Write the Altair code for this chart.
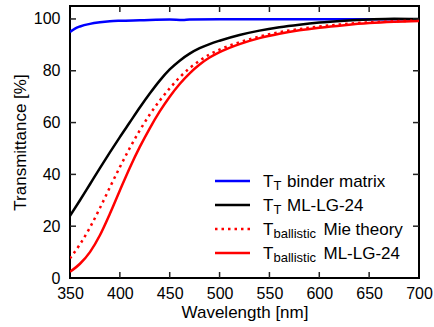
import altair as alt
import pandas as pd

# ---------------- data ----------------
WL_BLUE = [350, 355, 360, 370, 380, 390, 400, 420, 450, 463, 470, 500, 550, 600, 650, 700]
T_BLUE = [95.0, 96.3, 97.1, 98.1, 98.7, 99.1, 99.3, 99.5, 99.8, 99.6, 99.8, 99.9, 99.9, 99.9, 99.9, 99.9]

WL = [350, 360, 370, 380, 390, 400, 410, 420, 430, 440, 450, 460, 470, 480, 490, 500,
      520, 540, 560, 580, 600, 625, 650, 675, 700]
T_BLACK = [24.0, 30.0, 36.2, 42.4, 48.5, 54.4, 60.1, 65.8, 71.2, 76.2, 80.5, 83.9, 86.6, 88.7, 90.3, 91.6,
           93.8, 95.5, 96.8, 97.8, 98.6, 99.3, 99.8, 100.1, 100.0]
T_MIE = [7.6, 13.0, 19.5, 27.0, 35.0, 42.8, 50.2, 57.0, 63.1, 68.5, 73.2, 77.5, 81.0, 83.9, 86.3, 88.2,
         91.0, 93.2, 94.9, 96.1, 97.1, 98.0, 98.7, 99.1, 99.4]
T_BALL = [2.4, 5.5, 10.0, 16.5, 24.8, 33.8, 42.6, 50.6, 57.8, 64.3, 70.0, 74.9, 79.0, 82.4, 85.1, 87.2,
          90.3, 92.6, 94.3, 95.6, 96.6, 97.6, 98.4, 98.9, 99.2]

X_TICKS = [350, 400, 450, 500, 550, 600, 650, 700]
Y_TICKS = [0, 20, 40, 60, 80, 100]
X_INNER = [400, 450, 500, 550, 600, 650]
Y_INNER = [20, 40, 60, 80, 100]

LEG_MAIN = ["T", "T", "T", "T"]
LEG_SUB = ["T", "T", "ballistic", "ballistic"]
LEG_REST = ["binder matrix", "ML-LG-24", "Mie theory", "ML-LG-24"]
LEG_COLOR = ["#0000ff", "#000000", "#ff0000", "#ff0000"]
LEG_DOTTED = [False, False, True, False]

# ---------------- style ----------------
FONT = "Liberation Sans"
W, H = 349, 272
LW = 2.5
DOT = [2.5, 4.0]

x_scale = alt.Scale(domain=[350, 700], nice=False, zero=False)
y_scale = alt.Scale(domain=[0, 105], nice=False, zero=False)

x_axis = alt.Axis(title="Wavelength [nm]", values=X_TICKS, grid=False, domain=False,
                  ticks=False, tickSize=0, labelPadding=7, labelFontSize=16,
                  titleFontSize=17, titlePadding=3, labelFont=FONT, titleFont=FONT,
                  labelColor="black", titleColor="black", titleFontWeight="normal",
                  labelFlush=False, labelOverlap=False)
y_axis = alt.Axis(title="Transmittance [%]", values=Y_TICKS, grid=False, domain=False,
                  ticks=False, tickSize=0, labelPadding=10, labelFontSize=16,
                  titleFontSize=17, titlePadding=4, labelFont=FONT, titleFont=FONT,
                  labelColor="black", titleColor="black", titleFontWeight="normal",
                  labelFlush=False, labelOverlap=False)

X = lambda: alt.X("wavelength:Q", scale=x_scale, axis=x_axis)
Y = lambda: alt.Y("T:Q", scale=y_scale, axis=y_axis)


def series(wl, t, color, dotted=False):
    df = pd.DataFrame({"wavelength": wl, "T": t})
    kw = dict(color=color, strokeWidth=LW, interpolate="monotone", clip=True)
    if dotted:
        kw.update(strokeDash=DOT, strokeCap="butt")
    return alt.Chart(df).mark_line(**kw).encode(x=X(), y=Y())


layers = [
    series(WL_BLUE, T_BLUE, "#0000ff"),
    series(WL, T_BLACK, "#000000"),
    series(WL, T_MIE, "#ff0000", dotted=True),
    series(WL, T_BALL, "#ff0000"),
]

# inward ticks on all four sides
TL = 6
tx = pd.DataFrame({"wavelength": X_INNER})
ty = pd.DataFrame({"T": Y_INNER})
tick_kw = dict(color="#222222", strokeWidth=1.5)
layers += [
    alt.Chart(tx).mark_rule(**tick_kw).encode(x=X(), y=alt.value(H), y2=alt.value(H - TL)),
    alt.Chart(tx).mark_rule(**tick_kw).encode(x=X(), y=alt.value(0), y2=alt.value(TL)),
    alt.Chart(ty).mark_rule(**tick_kw).encode(y=Y(), x=alt.value(0), x2=alt.value(TL)),
    alt.Chart(ty).mark_rule(**tick_kw).encode(y=Y(), x=alt.value(W), x2=alt.value(W - TL)),
]

# custom legend (subscripts need separate text pieces)
LEG_Y0, LEG_DY = 175, 24
SAMPLE_X0, SAMPLE_X1 = 145, 180
MAIN_X, SUB_X = 193, 203.5
REST_X = {"T": 217, "ballistic": 253.5}
for i in range(4):
    ry = LEG_Y0 + i * LEG_DY
    kw = dict(color=LEG_COLOR[i], strokeWidth=LW)
    if LEG_DOTTED[i]:
        kw.update(strokeDash=DOT, strokeCap="butt")
    d = pd.DataFrame({"main": [LEG_MAIN[i]], "sub": [LEG_SUB[i]], "rest": [LEG_REST[i]]})
    layers.append(alt.Chart(d).mark_rule(**kw).encode(
        x=alt.value(SAMPLE_X0), x2=alt.value(SAMPLE_X1), y=alt.value(ry)))
    layers.append(alt.Chart(d).mark_text(align="left", baseline="alphabetic", font=FONT,
                                         fontSize=17, color="black").encode(
        text="main:N", x=alt.value(MAIN_X), y=alt.value(ry + 6)))
    layers.append(alt.Chart(d).mark_text(align="left", baseline="alphabetic", font=FONT,
                                         fontSize=13, color="black").encode(
        text="sub:N", x=alt.value(SUB_X), y=alt.value(ry + 8.5)))
    layers.append(alt.Chart(d).mark_text(align="left", baseline="alphabetic", font=FONT,
                                         fontSize=17, color="black").encode(
        text="rest:N", x=alt.value(REST_X[LEG_SUB[i]]), y=alt.value(ry + 6)))

chart = alt.layer(*layers).properties(
    width=W, height=H,
    padding={"left": 70, "top": 6, "right": 15, "bottom": 49},
    autosize=alt.AutoSizeParams(type="none"),
    background="white",
).configure_view(stroke="black", strokeWidth=2)

chart.save("out.html", embed_options={"renderer": "svg", "actions": False})
